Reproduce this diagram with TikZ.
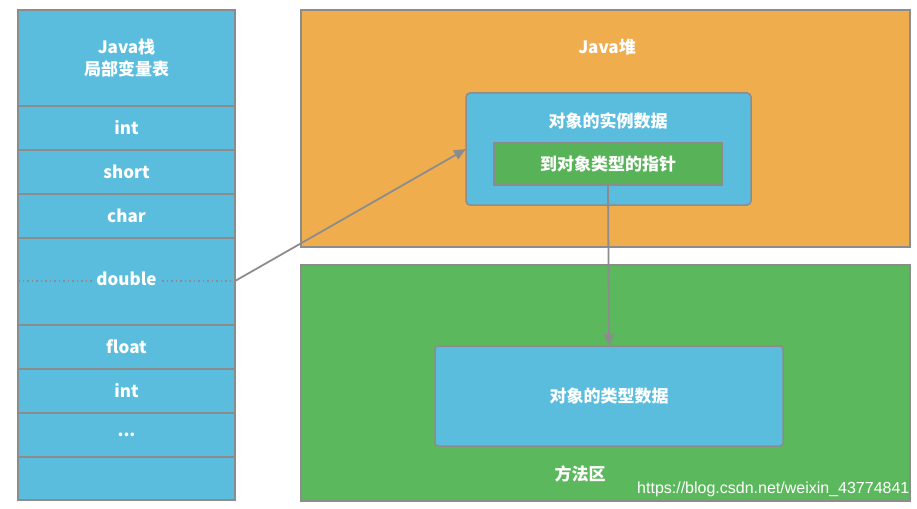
\documentclass[tikz,border=0pt]{standalone}
\usepackage{fontspec}
\setmainfont{Noto Sans CJK SC}
\newfontfamily\wmfont{Liberation Sans}
\usetikzlibrary{arrows.meta}
\definecolor{cblue}{HTML}{5BBDDE}
\definecolor{corange}{HTML}{F0AD4E}
\definecolor{cgreen}{HTML}{5CB85C}
\definecolor{cgreenin}{HTML}{58B358}
\definecolor{cgray}{HTML}{8C8C8C}
\begin{document}
\begin{tikzpicture}[x=1pt,y=-1pt,
  cell/.style={draw=cgray,line width=1.5pt,fill=cblue,minimum width=217pt,inner sep=0pt,outer sep=0pt},
  lbl/.style={text=white,font=\fontsize{17pt}{22pt}\selectfont\bfseries,align=center},
  area/.style={draw=cgray,line width=1.5pt,minimum width=609pt,inner sep=0pt,outer sep=0pt},
  ibox/.style={draw=cgray,line width=1.5pt,fill=cblue,rounded corners=4pt,inner sep=0pt,outer sep=0pt},
  arr/.style={draw=cgray,line width=1.8pt,-{Triangle[length=12pt,width=10pt]}}]
\useasboundingbox (0,0) rectangle (917,508);
% left stack
\node[cell,minimum height=96pt] (r0) at (126.5,58) {};
\node[cell,minimum height=44pt] (r1) at (126.5,128) {};
\node[cell,minimum height=44pt] (r2) at (126.5,172) {};
\node[cell,minimum height=44pt] (r3) at (126.5,216) {};
\node[cell,minimum height=87pt] (r4) at (126.5,281.5) {};
\node[cell,minimum height=44pt] (r5) at (126.5,347) {};
\node[cell,minimum height=44pt] (r6) at (126.5,391) {};
\node[cell,minimum height=44pt] (r7) at (126.5,435) {};
\node[cell,minimum height=43pt] (r8) at (126.5,478.5) {};
\node[lbl] (t0) at (126.5,58) {Java栈\\局部变量表};
\node[lbl] (t1) at (r1) {int};
\node[lbl] (t2) at (r2) {short};
\node[lbl] (t3) at (r3) {char};
\coordinate (dl) at (18,281);
\coordinate (dr) at (235,281);
\draw[cgray,line width=1.5pt,dash pattern=on 1.5pt off 3pt] (dl) -- (dr);
\node[lbl,fill=cblue,inner sep=2pt] (t4) at (126.5,279) {double};
\node[lbl] (t5) at (r5) {float};
\node[lbl] (t6) at (r6) {int};
\node[lbl] (t7) at (r7) {...};
% heap
\node[area,fill=corange,minimum height=237pt] (heap) at (605.5,128.5) {};
\node[lbl] (heapt) at (607,47) {Java堆};
\node[ibox,minimum width=285pt,minimum height=112pt] (obj) at (608.5,149) {};
\node[lbl] (objt) at (608,121) {对象的实例数据};
\node[draw=cgray,line width=1.5pt,fill=cgreenin,minimum width=228pt,minimum height=42pt,inner sep=0pt,outer sep=0pt] (ptr) at (608,164) {};
\node[lbl] (ptrt) at (ptr) {到对象类型的指针};
% method area
\node[area,fill=cgreen,minimum height=236pt] (meth) at (605.5,383) {};
\node[ibox,minimum width=348pt,minimum height=100pt,rounded corners=3pt] (typ) at (609,396) {};
\node[lbl] (typt) at (typ) {对象的类型数据};
\node[lbl] (metht) at (580,474) {方法区};
\node[text=white,font=\wmfont\fontsize{16pt}{18pt}\selectfont,anchor=west,inner sep=0pt] (wm) at (637,489) {https://blog.csdn.net/weixin\_43774841};
% arrows
\draw[arr] (dr) -- (obj.west);
\draw[arr] (ptr.south) -- (typ.north);
\end{tikzpicture}
\end{document}
